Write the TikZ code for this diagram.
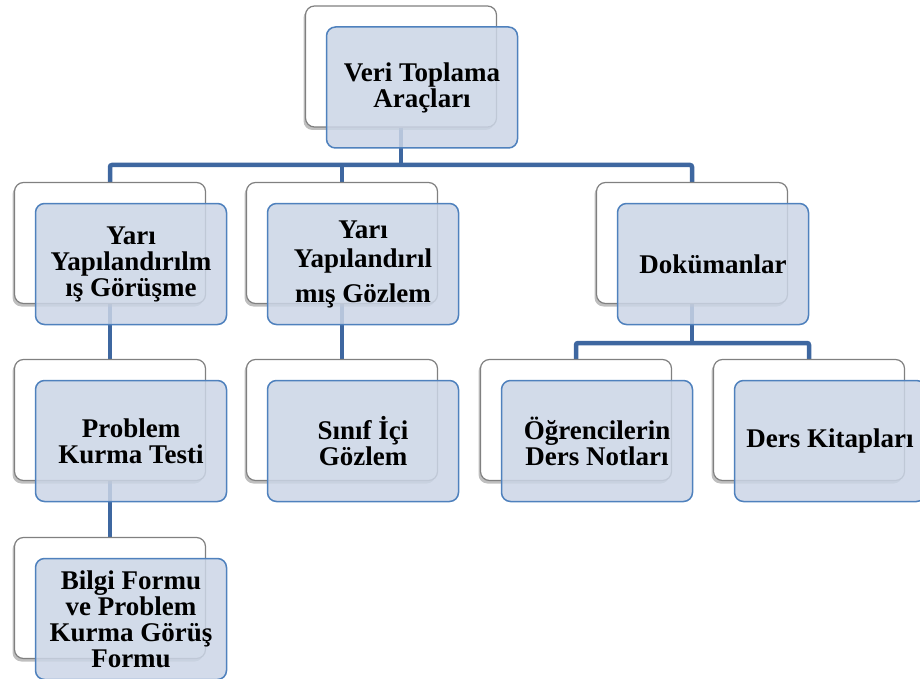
\documentclass[tikz,border=0pt]{standalone}
\usepackage{fontspec}
\setmainfont{Liberation Serif}
\usetikzlibrary{shadows,backgrounds}
\definecolor{linkblue}{RGB}{62,103,160}
\definecolor{boxblue}{RGB}{79,129,189}
\definecolor{boxfill}{RGB}{203,213,230}
\tikzstyle{backbox} = [rectangle, rounded corners=9pt, minimum width=191pt, minimum height=121pt, draw=gray, line width=1.2pt, fill=white, drop shadow={shadow xshift=-2pt, shadow yshift=-3pt, opacity=0.5}]
\tikzstyle{frontbox} = [rectangle, rounded corners=9pt, minimum width=191pt, minimum height=121pt, inner sep=2pt, draw=boxblue, line width=1.5pt, fill=boxfill, fill opacity=0.85, text opacity=1, align=center, font=\bfseries\fontsize{27}{26}\selectfont, xshift=21pt, yshift=-21pt]
\tikzstyle{link} = [linkblue, line width=4.5pt, rounded corners=2pt]

\begin{document}
\begin{tikzpicture}[x=1pt, y=1pt]
		\useasboundingbox (0,0) rectangle (920,-679);
		% white boxes behind
		\node (top) [backbox] at (401,-66.5) {};
		\node (yg) [backbox] at (110,-243) {};
		\node (yt) [backbox] at (342,-243) {};
		\node (dok) [backbox] at (692,-243) {};
		\node (pk) [backbox] at (110,-420) {};
		\node (sig) [backbox] at (342,-420) {};
		\node (ogr) [backbox] at (576,-420) {};
		\node (dk) [backbox] at (809,-420) {};
		\node (bf) [backbox] at (110,-598) {};

		% blue boxes with the texts
		\node (topt) [frontbox] at (top) {Veri Toplama\\Araçları};
		\node (ygt) [frontbox] at (yg) {Yarı\\Yapılandırılm\\ış Görüşme};
		\node (ytt) [frontbox] at (yt) {Yarı\\[3pt]Yapılandırıl\\[9pt]mış Gözlem};
		\node (dokt) [frontbox] at (dok) {Dokümanlar};
		\node (pkt) [frontbox] at (pk) {Problem\\Kurma Testi};
		\node (sigt) [frontbox] at (sig) {Sınıf İçi\\Gözlem};
		\node (ogrt) [frontbox] at (ogr) {Öğrencilerin\\Ders Notları};
		\node (dkt) [frontbox] at (dk) {Ders Kitapları};
		\node (bft) [frontbox] at (bf) {Bilgi Formu\\ve Problem\\Kurma Görüş\\Formu};

		\coordinate (j1) at (401,-165);
		\coordinate (j2) at (692,-343);
		\begin{pgfonlayer}{background}
		\draw [link] (top) -- (j1);
		\draw [link] (yg) |- (j1) -| (dok);
		\draw [link] (yt) -- (yt |- j1);
		\draw [link] (yg) -- (pk);
		\draw [link] (pk) -- (bf);
		\draw [link] (yt) -- (sig);
		\draw [link] (dok) -- (j2);
		\draw [link] (ogr) |- (j2) -| (dk);
		\end{pgfonlayer}
	  \end{tikzpicture}
\end{document}
